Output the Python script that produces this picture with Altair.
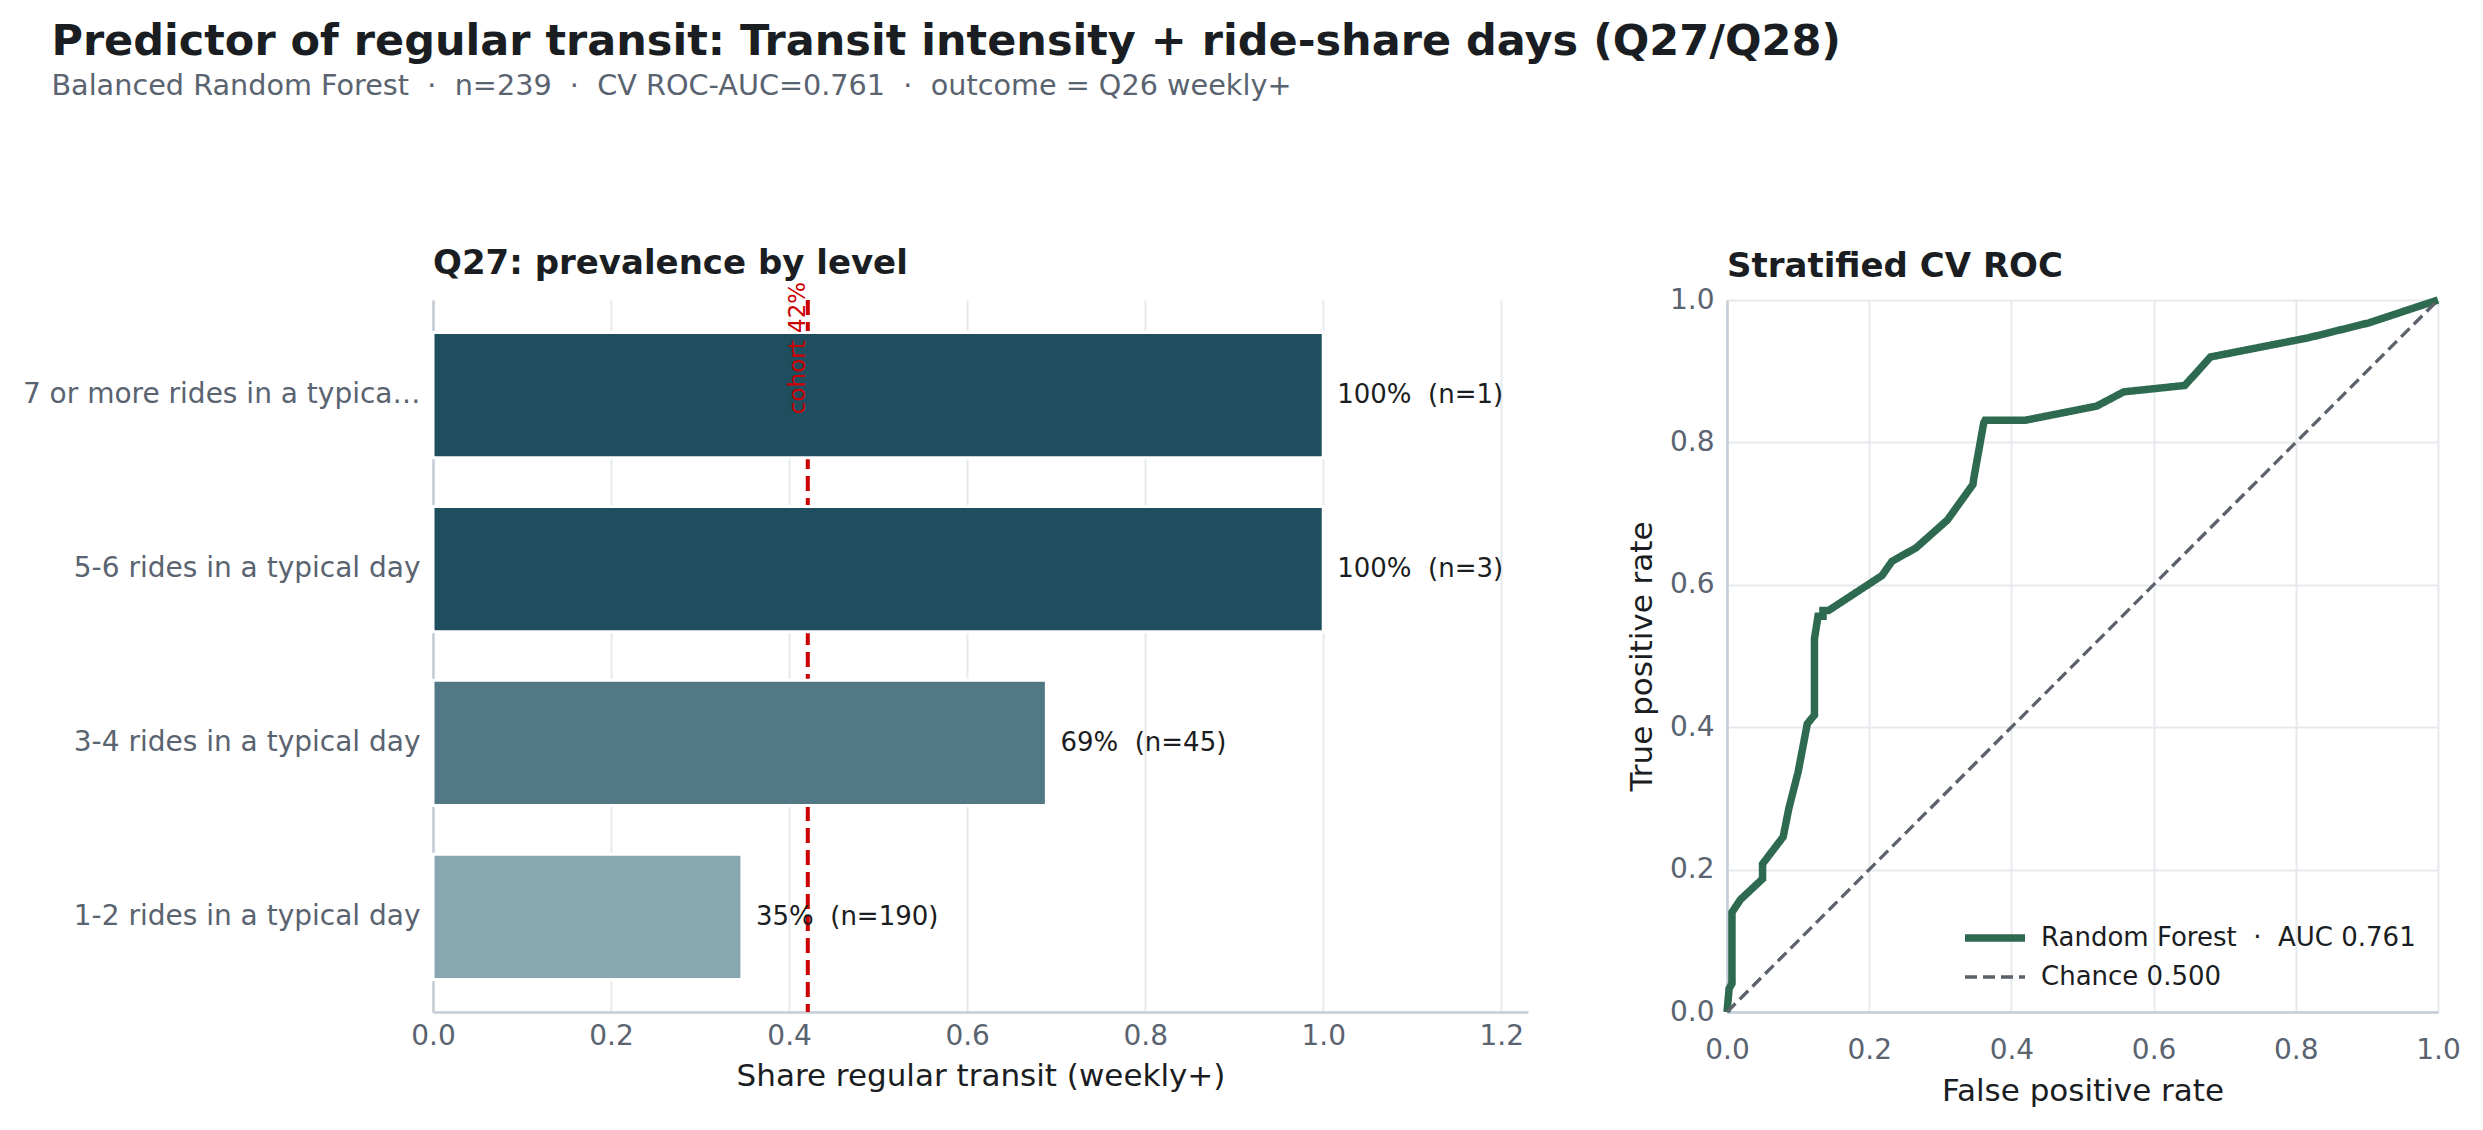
import altair as alt
import pandas as pd

# ---------------- data ----------------
categories = [
    "7 or more rides in a typica\u2026",
    "5-6 rides in a typical day",
    "3-4 rides in a typical day",
    "1-2 rides in a typical day",
]
shares = [1.0, 1.0, 0.689, 0.347]
counts = [1, 3, 45, 190]
bar_colors = ["#1f4e5f", "#1f4e5f", "#527886", "#88a7b1"]
cohort_share = 0.421
cohort_text = "cohort 42%"

fpr = [0.0, 0.003, 0.007, 0.007, 0.019, 0.050, 0.050, 0.079, 0.087, 0.100,
       0.113, 0.123, 0.123, 0.128, 0.135, 0.135, 0.143, 0.218, 0.232, 0.266,
       0.310, 0.346, 0.347, 0.361, 0.363, 0.419, 0.520, 0.558, 0.644, 0.680,
       0.818, 0.903, 1.0]
tpr = [0.0, 0.033, 0.040, 0.140, 0.158, 0.187, 0.208, 0.246, 0.286, 0.337,
       0.405, 0.417, 0.524, 0.556, 0.556, 0.564, 0.564, 0.613, 0.633, 0.652,
       0.691, 0.741, 0.749, 0.827, 0.831, 0.831, 0.851, 0.871, 0.880, 0.920,
       0.947, 0.968, 1.0]
chance_fpr = [0.0, 1.0]
chance_tpr = [0.0, 1.0]
auc = 0.761
chance_auc = 0.500

title_text = "Predictor of regular transit: Transit intensity + ride-share days (Q27/Q28)"
subtitle_text = ("Balanced Random Forest\u00a0 \u00b7 \u00a0n=239\u00a0 \u00b7 \u00a0CV ROC-AUC=0.761"
                 "\u00a0 \u00b7 \u00a0outcome = Q26 weekly+")

NB = "\u00a0"
rf_name = f"Random Forest{NB}{NB}\u00b7{NB}{NB}AUC {auc:.3f}"
chance_name = f"Chance {chance_auc:.3f}"

FONT = "DejaVu Sans"
DARK = "#1a1d21"
GREY = "#5a6370"
GREEN = "#2d6a4f"

# ---------------- left panel ----------------
bars_df = pd.DataFrame({
    "level": categories,
    "share": shares,
    "n": counts,
    "label": [f"{round(s * 100)}%{NB}{NB}(n={n})" for s, n in zip(shares, counts)],
})
cohort_df = pd.DataFrame({"share": [cohort_share], "level": [categories[0]], "txt": [cohort_text]})

x_scale = alt.Scale(domain=[0, 1.23], nice=False, zero=True)
x_axis = alt.Axis(values=[0, 0.2, 0.4, 0.6, 0.8, 1.0, 1.2], format=".1f", grid=True,
                  labelPadding=10, titlePadding=11, ticks=False, labelFlush=False)
x_enc = alt.X("share:Q", scale=x_scale, axis=x_axis, title="Share regular transit (weekly+)")
y_scale = alt.Scale(domain=categories, paddingInner=0.28, paddingOuter=0.187)
y_enc = alt.Y("level:N", scale=y_scale, sort=categories, title=None,
              axis=alt.Axis(labelPadding=13, ticks=False, labelLimit=800, grid=False))

rule = alt.Chart(cohort_df).mark_rule(color="#cc0000", strokeWidth=4, strokeDash=[15, 7]).encode(x=x_enc)
bars = alt.Chart(bars_df).mark_bar(stroke="white", strokeWidth=3).encode(
    x=x_enc,
    y=y_enc,
    color=alt.Color("level:N", scale=alt.Scale(domain=categories, range=bar_colors), legend=None),
)
labels = alt.Chart(bars_df).mark_text(align="left", baseline="middle", dx=14, fontSize=26,
                                      color=DARK, font=FONT).encode(
    x=x_enc, y=y_enc, text="label:N")
cohort_lbl = alt.Chart(cohort_df).mark_text(angle=270, align="left", baseline="alphabetic",
                                            dx=-19, dy=-3, fontSize=23, color="#cc0000",
                                            font=FONT).encode(
    x=x_enc, y=y_enc, text="txt:N")

left = alt.layer(rule, bars, labels, cohort_lbl).properties(
    width=1095, height=712,
    title=alt.TitleParams("Q27: prevalence by level", anchor="start", frame="group",
                          fontSize=34, fontWeight="bold", color=DARK, font=FONT, offset=1),
)

# ---------------- right panel ----------------
roc_df = pd.DataFrame({"fpr": fpr, "tpr": tpr, "idx": list(range(len(fpr))), "series": rf_name})
chance_df = pd.DataFrame({"fpr": chance_fpr, "tpr": chance_tpr, "idx": [0, 1], "series": chance_name})
lines_df = pd.concat([roc_df, chance_df], ignore_index=True)

unit_ticks = [0, 0.2, 0.4, 0.6, 0.8, 1.0]
fx = alt.X("fpr:Q", scale=alt.Scale(domain=[0, 1], nice=False), title="False positive rate",
           axis=alt.Axis(values=unit_ticks, format=".1f", labelPadding=24, titlePadding=12,
                         ticks=False, labelFlush=False))
fy = alt.Y("tpr:Q", scale=alt.Scale(domain=[0, 1], nice=False), title="True positive rate", stack=None,
           axis=alt.Axis(values=unit_ticks, format=".1f", labelPadding=13, titlePadding=11,
                         ticks=False, labelFlush=False))

area = alt.Chart(roc_df).mark_area(color=GREEN, opacity=0.13).encode(x=fx, y=fy, order="idx:Q")
series_dom = [rf_name, chance_name]
leg = alt.Legend(title=None, orient="bottom-right", offset=22, labelLimit=800)
lines = alt.Chart(lines_df).mark_line(strokeCap="butt").encode(
    x=fx, y=fy,
    order="idx:Q",
    color=alt.Color("series:N", scale=alt.Scale(domain=series_dom, range=[GREEN, "#5b626b"]), legend=leg),
    strokeDash=alt.StrokeDash("series:N", scale=alt.Scale(domain=series_dom, range=[[1, 0], [12, 6]]),
                              legend=leg),
    strokeWidth=alt.StrokeWidth("series:N", scale=alt.Scale(domain=series_dom, range=[7.5, 3.3]),
                                legend=leg),
)

right = alt.layer(area, lines).properties(
    width=711, height=712,
    title=alt.TitleParams("Stratified CV ROC", anchor="start", frame="group",
                          fontSize=34, fontWeight="bold", color=DARK, font=FONT, offset=1),
)

chart = alt.hconcat(left, right, spacing=98).resolve_scale(
    color="independent", strokeDash="independent", strokeWidth="independent"
).resolve_legend(
    color="independent", strokeDash="independent", strokeWidth="independent"
).properties(
    title=alt.TitleParams(title_text, subtitle=subtitle_text, anchor="start", dx=29,
                          fontSize=43, fontWeight="bold", color=DARK, font=FONT,
                          subtitleFont=FONT, subtitleFontSize=28.7, subtitleColor=GREY,
                          subtitlePadding=8, offset=146),
    padding={"left": 14, "top": 13, "right": 5, "bottom": 5},
).configure(font=FONT).configure_view(stroke=None).configure_axis(
    domainColor="#c5ccd5", domainWidth=2.5, gridColor="#e6e9ee", gridWidth=2,
    labelFont=FONT, labelFontSize=28, labelColor=GREY,
    titleFont=FONT, titleFontSize=31, titleFontWeight="normal", titleColor=DARK,
).configure_legend(
    symbolType="M-2,0H2", symbolSize=900, labelFontSize=26, labelColor=DARK, labelFont=FONT,
    labelOffset=27, padding=0, rowPadding=7,
)

chart.save("out.html", embed_options={"renderer": "svg", "actions": False})
